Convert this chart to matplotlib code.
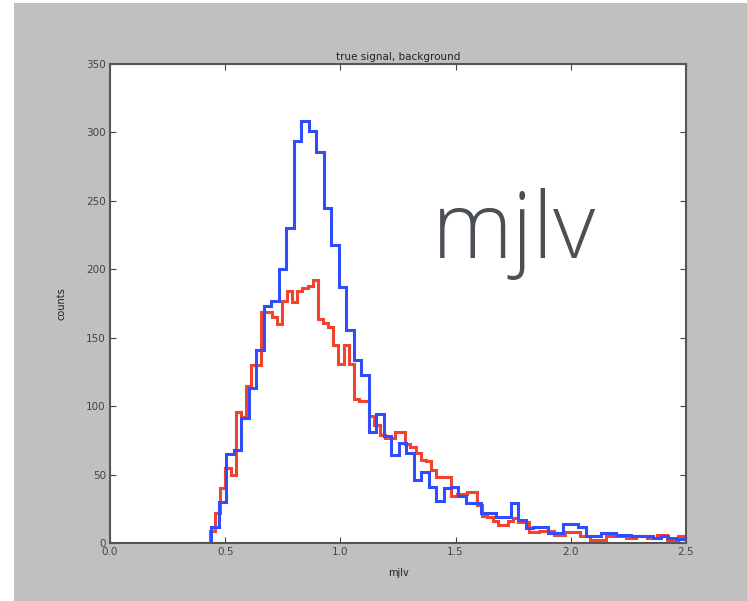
import numpy as np
import matplotlib
matplotlib.use("Agg")
import matplotlib.pyplot as plt
from matplotlib.patches import Rectangle

# signal (blue) histogram: bin start, bin width and counts per bin
sig_start = 0.3425
sig_width = 0.0325
sig_counts = [0, 0, 0, 12, 30, 65, 68, 91, 113, 141,
              173, 177, 200, 230, 294, 308, 301, 286, 245, 218,
              187, 156, 134, 123, 81, 94, 78, 64, 73, 66,
              46, 52, 41, 31, 40, 41, 34, 29, 29, 22,
              22, 19, 19, 29, 17, 11, 12, 12, 7, 7,
              14, 14, 12, 5, 5, 7, 7, 6, 6, 5,
              5, 5, 4, 5, 4, 3, 3]

# background (red) histogram
bkg_start = 0.434
bkg_width = 0.0223
bkg_counts = [9, 22, 40, 55, 50, 96, 92, 115, 130, 130,
              169, 169, 165, 160, 177, 184, 176, 184, 186, 188,
              192, 164, 161, 158, 145, 131, 145, 131, 105, 104,
              104, 93, 86, 79, 77, 77, 81, 81, 72, 70,
              66, 61, 60, 53, 48, 48, 48, 34, 36, 36,
              37, 37, 28, 20, 19, 16, 13, 13, 16, 18,
              15, 15, 8, 8, 9, 9, 9, 6, 6, 8,
              8, 8, 5, 5, 2, 2, 2, 5, 5, 5,
              5, 4, 4, 5, 5, 4, 4, 6, 6, 2,
              2, 5, 5, 4]

sig_edges = sig_start + sig_width * np.arange(len(sig_counts) + 1)
bkg_edges = bkg_start + bkg_width * np.arange(len(bkg_counts) + 1)

fig = plt.figure(figsize=(7.47, 6.01), dpi=100, facecolor="#c0c0c0")
# white margin along the left and top edge
fig.patches.append(Rectangle((0, 0), 14 / 747, 1, transform=fig.transFigure,
                             facecolor="white", edgecolor="none", zorder=-1))
fig.patches.append(Rectangle((0, 1 - 3 / 601), 1, 3 / 601, transform=fig.transFigure,
                             facecolor="white", edgecolor="none", zorder=-1))

ax = fig.add_axes([110 / 747, 58 / 601, 576 / 747, 479 / 601])
ax.stairs(bkg_counts, bkg_edges, color="#f2432f", linewidth=2.2, baseline=0)
ax.stairs(sig_counts, sig_edges, color="#2f4cff", linewidth=2.2, baseline=0)

ax.set_xlim(0, 2.5)
ax.set_ylim(0, 350)
ax.set_xticks(np.arange(0, 2.51, 0.5))
ax.set_yticks(np.arange(0, 351, 50))
ax.tick_params(direction="in", top=True, right=True, length=4, width=0.8,
               labelsize=7.5, colors="#444444", pad=3)
for sp in ax.spines.values():
    sp.set_linewidth(1.5)
    sp.set_color("#555555")

ax.set_title("true signal, background", fontsize=7.5, color="#222222", pad=3)
ax.set_xlabel("mjlv", fontsize=7, color="#222222", labelpad=8)
ax.set_ylabel("counts", fontsize=7, color="#222222", labelpad=14)

fig.text(432 / 747, 1 - 258 / 601, "mjlv", fontsize=66, family="Open Sans",
         fontweight="light", color="#4b5056", ha="left", va="baseline")

fig.savefig("out.png", dpi=100, facecolor=fig.get_facecolor())
